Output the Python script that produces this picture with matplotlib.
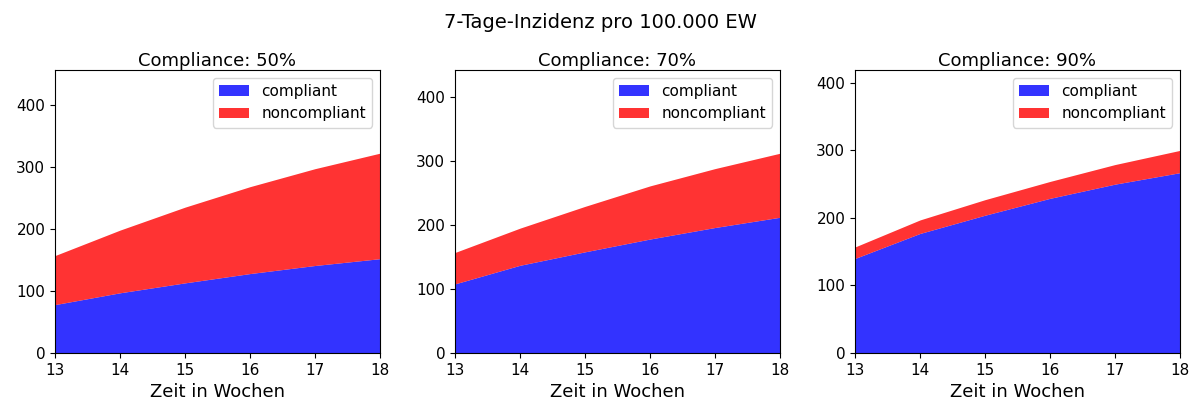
import matplotlib
matplotlib.use("Agg")
import matplotlib.pyplot as plt
import numpy as np

weeks = [13, 14, 15, 16, 17, 18]
titles = ["Compliance: 50%", "Compliance: 70%", "Compliance: 90%"]
compliant = [
    [78, 97, 113, 128, 141, 152],
    [108, 137, 158, 178, 196, 212],
    [140, 177, 204, 229, 250, 267],
]
total = [
    [157, 198, 235, 268, 297, 322],
    [157, 195, 229, 261, 288, 312],
    [157, 197, 227, 254, 279, 300],
]
ytops = [456, 442, 419]

fig = plt.figure(figsize=(12, 4.2), dpi=100)
lefts = [55, 455, 855]
for i in range(3):
    ax = fig.add_axes([lefts[i] / 1200, 67 / 420, 325 / 1200, 283 / 420])
    c = np.array(compliant[i]); t = np.array(total[i])
    ax.fill_between(weeks, 0, c, color="blue", alpha=0.8, linewidth=0, label="compliant")
    ax.fill_between(weeks, c, t, color="red", alpha=0.8, linewidth=0, label="noncompliant")
    ax.set_xlim(13, 18)
    ax.set_ylim(0, ytops[i])
    ax.set_xticks(weeks)
    ax.set_yticks([0, 100, 200, 300, 400])
    ax.tick_params(labelsize=11)
    ax.set_title(titles[i], fontsize=13, pad=3)
    ax.set_xlabel("Zeit in Wochen", fontsize=13)
    ax.legend(loc="upper right", fontsize=11)
fig.suptitle("7-Tage-Inzidenz pro 100.000 EW", fontsize=14, y=0.97)
fig.savefig("out.png")
